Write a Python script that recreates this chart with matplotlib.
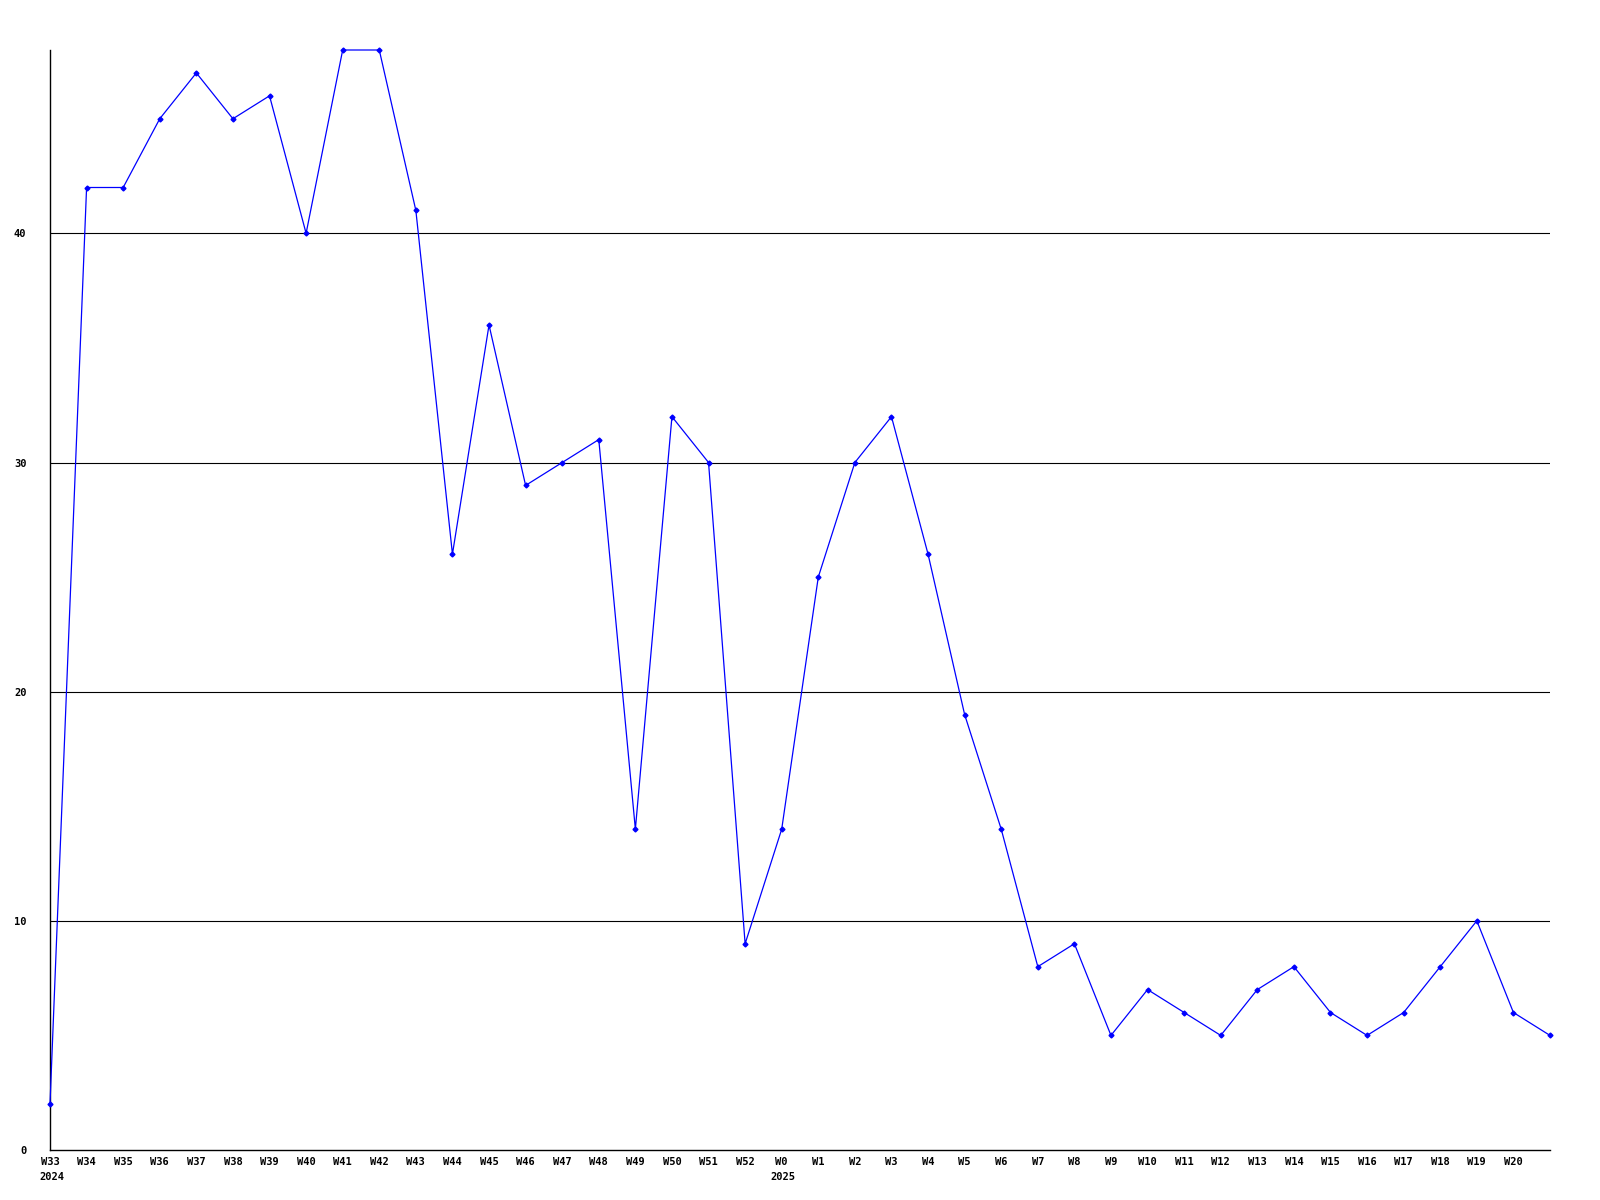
import matplotlib
matplotlib.use('Agg')
import matplotlib.pyplot as plt

weeks = ['W33', 'W34', 'W35', 'W36', 'W37', 'W38', 'W39', 'W40', 'W41', 'W42',
         'W43', 'W44', 'W45', 'W46', 'W47', 'W48', 'W49', 'W50', 'W51', 'W52',
         'W0', 'W1', 'W2', 'W3', 'W4', 'W5', 'W6', 'W7', 'W8', 'W9',
         'W10', 'W11', 'W12', 'W13', 'W14', 'W15', 'W16', 'W17', 'W18', 'W19',
         'W20', 'W21']
counts = [2, 42, 42, 45, 47, 45, 46, 40, 48, 48,
          41, 26, 36, 29, 30, 31, 14, 32, 30, 9,
          14, 25, 30, 32, 26, 19, 14, 8, 9, 5,
          7, 6, 5, 7, 8, 6, 5, 6, 8, 10,
          6, 5]
years = {'W33': '2024', 'W0': '2025'}
yticks = [0, 10, 20, 30, 40]

fig = plt.figure(figsize=(16, 12), dpi=100)
ax = fig.add_axes([50 / 1600, 50 / 1200, 1500 / 1600, 1100 / 1200])

xs = list(range(len(weeks)))
ax.plot(xs, counts, color='#0000ff', linewidth=0.9, marker='D', markersize=2.5,
        clip_on=False, zorder=3)

ax.set_xlim(0, len(weeks) - 1)
ax.set_ylim(0, 48)

font = dict(family='DejaVu Sans Mono', fontweight='bold', fontsize=7.5)
ax.set_xticks(xs[:-1])
ax.set_xticklabels(weeks[:-1], **font)
ax.set_yticks(yticks)
ax.set_yticklabels([str(v) for v in yticks], **font)
ax.tick_params(length=0)
ax.tick_params(axis='x', pad=5)
ax.tick_params(axis='y', pad=17)

for v in yticks[1:]:
    ax.axhline(v, color='black', linewidth=0.8)

for i, w in enumerate(weeks):
    if w in years:
        ax.annotate(years[w], xy=(i, 0), xycoords=('data', 'axes fraction'),
                    xytext=(-11, -27), textcoords='offset pixels',
                    ha='left', va='center', **font)

for s in ['top', 'right']:
    ax.spines[s].set_visible(False)
ax.spines['left'].set_linewidth(1.0)
ax.spines['bottom'].set_linewidth(1.0)

fig.savefig('out.png', dpi=100)
